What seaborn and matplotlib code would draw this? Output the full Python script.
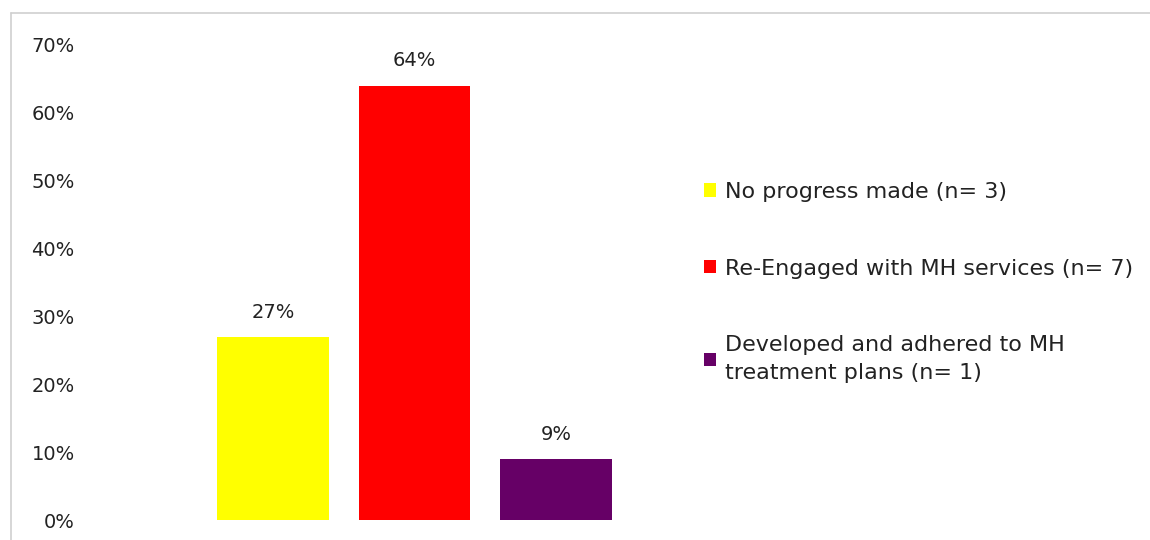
import matplotlib
matplotlib.use("Agg")
import matplotlib.pyplot as plt
from matplotlib.patches import Patch
from matplotlib.lines import Line2D
import seaborn as sns
import pandas as pd

# Outcome categories and their shares
categories = [
    "No progress made (n= 3)",
    "Re-Engaged with MH services (n= 7)",
    "Developed and adhered to MH\ntreatment plans (n= 1)",
]
shares = [0.27, 0.64, 0.09]
bar_labels = ["27%", "64%", "9%"]
colors = ["#FFFF00", "#FF0000", "#660066"]
y_ticks = [0.0, 0.1, 0.2, 0.3, 0.4, 0.5, 0.6, 0.7]
y_tick_labels = ["0%", "10%", "20%", "30%", "40%", "50%", "60%", "70%"]

sns.set_theme(style="white")
plt.rcParams["font.family"] = ["DejaVu Sans"]

W, H = 1150, 540
fig = plt.figure(figsize=(W / 100, H / 100), dpi=100)
fig.patch.set_facecolor("white")

# axes placed in pixel terms
ax_l, ax_r, ax_b, ax_t = 90, 660, 520, 45
ax = fig.add_axes([ax_l / W, 1 - ax_b / H, (ax_r - ax_l) / W, (ax_b - ax_t) / H])

df = pd.DataFrame({"category": categories, "share": shares})
sns.barplot(data=df, x="category", y="share", hue="category",
            palette=colors, width=0.79, legend=False, ax=ax,
            saturation=1, edgecolor="none")

# x scale: category centres at pixels 273, 414.5, 556
step = 141.5
x0 = 273
ax.set_xlim(-(x0 - ax_l) / step, 2 + (ax_r - (x0 + 2 * step)) / step)
ax.set_ylim(0, 0.70)

ax.set_yticks(y_ticks)
ax.set_yticklabels(y_tick_labels, fontsize=14, color="#222222")
ax.tick_params(axis="y", length=0, pad=11)
ax.set_xticks([])
ax.set_xlabel("")
ax.set_ylabel("")
for s in ax.spines.values():
    s.set_visible(False)
ax.patch.set_alpha(0)

for cont, lab in zip(ax.containers, bar_labels):
    ax.bar_label(cont, labels=[lab], padding=11, fontsize=14, color="#222222")

handles = [Patch(facecolor=c, edgecolor="none") for c in colors]
leg = fig.legend(handles, categories, loc="upper left",
                 bbox_to_anchor=(704 / W, 1 - 182 / H),
                 frameon=False, fontsize=16, handlelength=0.55,
                 handleheight=0.55, handletextpad=0.4, labelspacing=2.55,
                 borderpad=0, borderaxespad=0)
for t in leg.get_texts():
    t.set_color("#222222")
    t.set_linespacing(1.5)

# light frame around the chart area
frame_color = "#cfcfcf"
fig.add_artist(Line2D([11 / W, 1.0], [1 - 13 / H, 1 - 13 / H],
                      transform=fig.transFigure, color=frame_color, lw=1.2))
fig.add_artist(Line2D([11 / W, 11 / W], [0.0, 1 - 13 / H],
                      transform=fig.transFigure, color=frame_color, lw=1.2))

fig.savefig("out.png", dpi=100, facecolor="white")
